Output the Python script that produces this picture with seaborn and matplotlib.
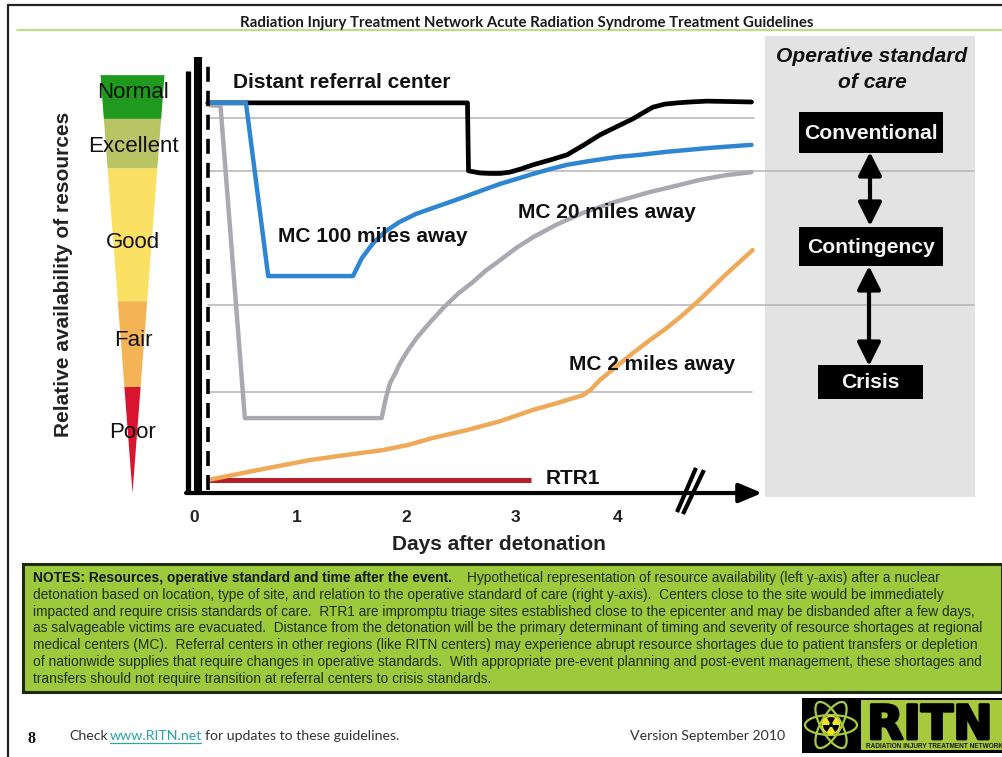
# Import libraries
import seaborn as sns
import matplotlib.pyplot as plt
import matplotlib.patches as mpatches
import matplotlib.patheffects as pe

# Curves (x = days after detonation, y = relative availability)
days_distant = [0.13, 2.58, 2.59, 2.70, 2.79, 2.89, 2.98, 3.08, 3.20, 3.36, 3.52, 3.68, 3.83, 3.98, 4.14, 4.25, 4.33, 4.44, 4.56, 4.68, 4.84, 5.06, 5.26]
avail_distant = [90.1, 90.1, 74.4, 73.9, 73.8, 73.8, 74.1, 74.8, 75.8, 76.9, 78.1, 80.4, 82.7, 84.5, 86.4, 88.0, 89.1, 89.8, 90.1, 90.3, 90.5, 90.4, 90.3]

days_mc100 = [0.13, 0.49, 0.70, 1.50, 1.585, 1.69, 1.81, 1.94, 2.09, 2.25, 2.415, 2.575, 2.73, 2.89, 3.04, 3.20, 3.36, 3.52, 3.74, 3.99, 4.21, 4.46, 4.87, 5.26]
avail_mc100 = [90.1, 90.1, 50.1, 50.1, 54.3, 57.7, 60.5, 62.6, 64.4, 65.8, 67.2, 68.6, 70.0, 71.4, 72.5, 73.7, 74.8, 75.8, 76.7, 77.6, 78.1, 78.8, 79.7, 80.4]

days_mc20 = [0.13, 0.25, 0.48, 1.77, 1.81, 1.85, 1.90, 1.94, 2.02, 2.10, 2.23, 2.35, 2.49, 2.63, 2.75, 2.89, 3.04, 3.20, 3.43, 3.67, 3.97, 4.30, 4.54, 4.77, 5.02, 5.26]
avail_mc20 = [89.6, 89.4, 17.3, 17.3, 21.9, 25.4, 27.7, 29.8, 33.0, 35.8, 39.5, 42.7, 46.0, 48.7, 51.3, 53.8, 56.6, 59.1, 62.1, 64.7, 67.2, 69.5, 70.9, 72.3, 73.4, 74.1]

days_mc2 = [0.13, 0.60, 1.09, 1.44, 1.78, 2.02, 2.25, 2.57, 2.89, 3.20, 3.43, 3.67, 3.74, 3.83, 3.97, 4.14, 4.30, 4.46, 4.62, 4.77, 5.01, 5.27]
avail_mc2 = [3.0, 5.3, 7.6, 8.8, 9.9, 11.1, 12.7, 14.5, 16.6, 19.2, 20.8, 22.6, 23.8, 26.1, 28.9, 32.3, 35.3, 38.1, 41.3, 44.6, 50.3, 56.1]

days_rtr1 = [0.13, 3.18]
avail_rtr1 = [3.0, 3.0]

# Tick labels and reference lines
tick_days = [0.0, 0.97, 2.0, 3.03, 4.0]
tick_labels = ['0', '1', '2', '3', '4']
grid_levels = [86.6, 74.4, 43.4, 23.3]
grid_ends = [5.28, 7.36, 7.36, 5.26]

# Wedge bands on the availability scale
band_names = ['Poor', 'Fair', 'Good', 'Excellent', 'Normal']
band_edges = [0, 24.5, 44.3, 75.0, 86.4, 96.5]
band_colors = ['#d8142f', '#f4b354', '#fae164', '#b9c465', '#1f9a1f']

notes_lines = [
    'detonation based on location, type of site, and relation to the operative standard of care (right y-axis).  Centers close to the site would be immediately',
    'impacted and require crisis standards of care.  RTR1 are impromptu triage sites established close to the epicenter and may be disbanded after a few days,',
    'as salvageable victims are evacuated.  Distance from the detonation will be the primary determinant of timing and severity of resource shortages at regional',
    'medical centers (MC).  Referral centers in other regions (like RITN centers) may experience abrupt resource shortages due to patient transfers or depletion',
    'of nationwide supplies that require changes in operative standards.  With appropriate pre-event planning and post-event management, these shortages and',
    'transfers should not require transition at referral centers to crisis standards.',
]

W, H = 1003, 757
sns.set_theme(style='white')
plt.rcParams['font.family'] = ['Liberation Sans', 'DejaVu Sans']
fig = plt.figure(figsize=(W / 100, H / 100), dpi=100, facecolor='white')


# Axes placed by their pixel box in the slide
def box_axes(left, top, right, bottom, zorder):
    a = fig.add_axes([left / W, 1 - bottom / H, (right - left) / W, (bottom - top) / H], zorder=zorder)
    a.patch.set_alpha(0)
    a.set_xticks([])
    a.set_yticks([])
    sns.despine(ax=a, left=True, bottom=True)
    return a


# Slide furniture behind the chart
bg = box_axes(0, 0, W, H, 0)
bg.set_xlim(0, W)
bg.set_ylim(H, 0)
bg.add_patch(mpatches.Rectangle((765, 36), 210, 461, color='#e3e3e3', lw=0))
bg.plot([8, 8], [5, H], color='#222222', lw=1.6)
bg.plot([8, W], [5, 5], color='#222222', lw=1.6)
bg.plot([17, W], [30, 30], color='#a6d85a', lw=1.1)
bg.add_patch(mpatches.Rectangle((23, 564), 979, 128, facecolor='#9dc93c', edgecolor='#1d2a10', lw=2.2))

# Main chart in days and availability
ax = box_axes(186, 55, 760, 497, 1)
ax.set_xlim(-0.0755, 5.34)
ax.set_ylim(-0.92, 101.15)
for level, end in zip(grid_levels, grid_ends):
    ax.plot([0.13, end], [level, level], color='#b4b4b8', lw=1.1, clip_on=False, zorder=1)

sns.lineplot(x=days_rtr1, y=avail_rtr1, color='#b5202a', linewidth=3.6, ax=ax, estimator=None, sort=False, solid_capstyle='butt')
sns.lineplot(x=days_mc2, y=avail_mc2, color='#eeaa58', linewidth=3.2, ax=ax, estimator=None, sort=False)
sns.lineplot(x=days_distant, y=avail_distant, color='black', linewidth=3.4, ax=ax, estimator=None, sort=False)
sns.lineplot(x=days_mc20, y=avail_mc20, color='#a9a9b1', linewidth=3.2, ax=ax, estimator=None, sort=False)
sns.lineplot(x=days_mc100, y=avail_mc100, color='#2e86d2', linewidth=3.2, ax=ax, estimator=None, sort=False)

ax.plot([-0.057, -0.057], [-0.3, 97.5], color='black', lw=3.8, solid_capstyle='butt', clip_on=False)
ax.plot([0.038, 0.038], [-0.3, 100.7], color='black', lw=5.8, solid_capstyle='butt', clip_on=False)
ax.plot([0.13, 0.13], [0.6, 99.0], color='black', lw=2.6, dashes=(4.15, 2.5), dash_capstyle='butt')
ax.annotate('', xy=(5.36, 0), xytext=(-0.075, 0), annotation_clip=False,
            arrowprops=dict(arrowstyle='-|>,head_width=0.42,head_length=1.0', mutation_scale=14, color='black',
                            lw=3.0, shrinkA=0, shrinkB=0))
# Axis break marks
ax.plot([4.557, 4.736], [-4.4, 5.8], color='black', lw=3.0, clip_on=False, solid_capstyle='butt')
ax.plot([4.613, 4.811], [-4.85, 5.3], color='black', lw=3.0, clip_on=False, solid_capstyle='butt')

# Availability wedge on the same vertical scale
wedge = box_axes(95, 55, 170, 497, 1)
wedge.set_xlim(-37.5, 37.5)
wedge.set_ylim(ax.get_ylim())
half_width = 32 / band_edges[-1]
for lo, hi, color in zip(band_edges[:-1], band_edges[1:], band_colors):
    wedge.fill([-lo * half_width, lo * half_width, hi * half_width, -hi * half_width],
               [lo, lo, hi, hi], color=color, lw=0)

# Everything in front of the chart
fg = box_axes(0, 0, W, H, 2)
fg.set_xlim(0, W)
fg.set_ylim(H, 0)

fg.text(527, 23, 'Radiation Injury Treatment Network Acute Radiation Syndrome Treatment Guidelines',
        family='Lato', weight='bold', fontsize=10.8, color='#1a1a1a', ha='center', va='center')

for name, y in zip(band_names, [433, 341, 242, 147, 93]):
    fg.text(133, y, name, fontsize=16, color='#111111', ha='center', va='center')
fg.text(64, 274, 'Relative availability of resources', fontsize=15, weight='bold', color='#222222',
        rotation=90, ha='center', va='center')
fg.text(233, 83, 'Distant referral center', fontsize=15, weight='bold', color='#111111', va='center')
fg.text(278, 237, 'MC 100 miles away', fontsize=15, weight='bold', color='#111111', va='center')
fg.text(518, 212, 'MC 20 miles away', fontsize=15, weight='bold', color='#111111', va='center')
fg.text(569, 365, 'MC 2 miles away', fontsize=15, weight='bold', color='#111111', va='center')
fg.text(546, 478, 'RTR1', fontsize=15, weight='bold', color='#111111', va='center')

for day, label in zip(tick_days, tick_labels):
    px = 194 + day * 106
    fg.text(px, 518, label, fontsize=12.5, weight='bold', color='#222222', ha='center', va='center')
fg.text(499, 545, 'Days after detonation', fontsize=15, weight='bold', color='#222222', ha='center', va='center')

fg.text(872, 56, 'Operative standard', fontsize=15.1, weight='bold', style='italic', color='#111111', ha='center', va='center')
fg.text(872, 82, 'of care', fontsize=15.1, weight='bold', style='italic', color='#111111', ha='center', va='center')

for label, x0, y0, bw, bh in [('Conventional', 799, 112, 144, 41), ('Contingency', 799, 227, 144, 39), ('Crisis', 818, 365, 105, 34)]:
    fg.add_patch(mpatches.Rectangle((x0, y0), bw, bh, color='black', lw=0))
    fg.text(x0 + bw / 2, y0 + bh / 2 + 1, label, fontsize=15.2, weight='bold', color='#f4f4f4', ha='center', va='center')

fg.annotate('', xy=(870, 152), xytext=(870, 226),
            arrowprops=dict(arrowstyle='<|-|>,head_width=0.55,head_length=1.1', mutation_scale=13, color='black', lw=3.0, shrinkA=0, shrinkB=0))
fg.annotate('', xy=(869, 266), xytext=(869, 366),
            arrowprops=dict(arrowstyle='<|-|>,head_width=0.55,head_length=1.1', mutation_scale=13, color='black', lw=3.0, shrinkA=0, shrinkB=0))

# Notes box
fg.text(33, 578, 'NOTES: Resources, operative standard and time after the event.', fontsize=9.95, weight='bold',
        color='#10180a', va='center')
fg.text(467, 578, 'Hypothetical representation of resource availability (left y-axis) after a nuclear', fontsize=9.95,
        color='#1f2f10', va='center')
for i, line in enumerate(notes_lines):
    fg.text(33, 595 + i * 16.7, line, fontsize=9.95, color='#1f2f10', va='center')

# Footer
fg.text(32, 739, '8', family='Liberation Serif', weight='bold', fontsize=11.5, color='#111111', ha='center', va='center')
fg.text(69, 736, 'Check', family='Lato', fontsize=10.2, color='#333333', va='center')
fg.text(110, 736, 'www.RITN.net', family='Lato', fontsize=10.2, color='#2aa3ad', va='center')
fg.plot([110, 201], [743, 743], color='#2aa3ad', lw=0.9)
fg.text(205, 736, 'for updates to these guidelines.', family='Lato', fontsize=10.2, color='#333333', va='center')
fg.text(630, 736, 'Version September 2010', family='Lato', fontsize=10.2, color='#333333', va='center')

# Logo
fg.add_patch(mpatches.Rectangle((802, 698), 201, 55, color='black', lw=0))
fg.add_patch(mpatches.Rectangle((861, 700), 142, 50, color='#a6c93e', lw=0))
fg.text(867, 739, 'RITN', family='DejaVu Sans', weight='bold', fontsize=34, color='black', va='baseline',
        path_effects=[pe.withStroke(linewidth=2, foreground='black')])
fg.text(866, 746, 'RADIATION INJURY TREATMENT NETWORK', weight='bold', fontsize=4.7, color='#1a1a10', va='center')
for angle in [0, 60, 120]:
    fg.add_patch(mpatches.Ellipse((831, 725), 52, 20, angle=angle, fill=False, edgecolor='#a6c93e', lw=1.6))
fg.add_patch(mpatches.Circle((831, 725), 9.5, color='#f4e425', lw=0))
for start in [0, 120, 240]:
    fg.add_patch(mpatches.Wedge((831, 725), 8, start, start + 60, color='black', lw=0))
fg.add_patch(mpatches.Circle((831, 725), 2, color='black', lw=0))

# Save the figure
plt.savefig('out.png', dpi=100)
